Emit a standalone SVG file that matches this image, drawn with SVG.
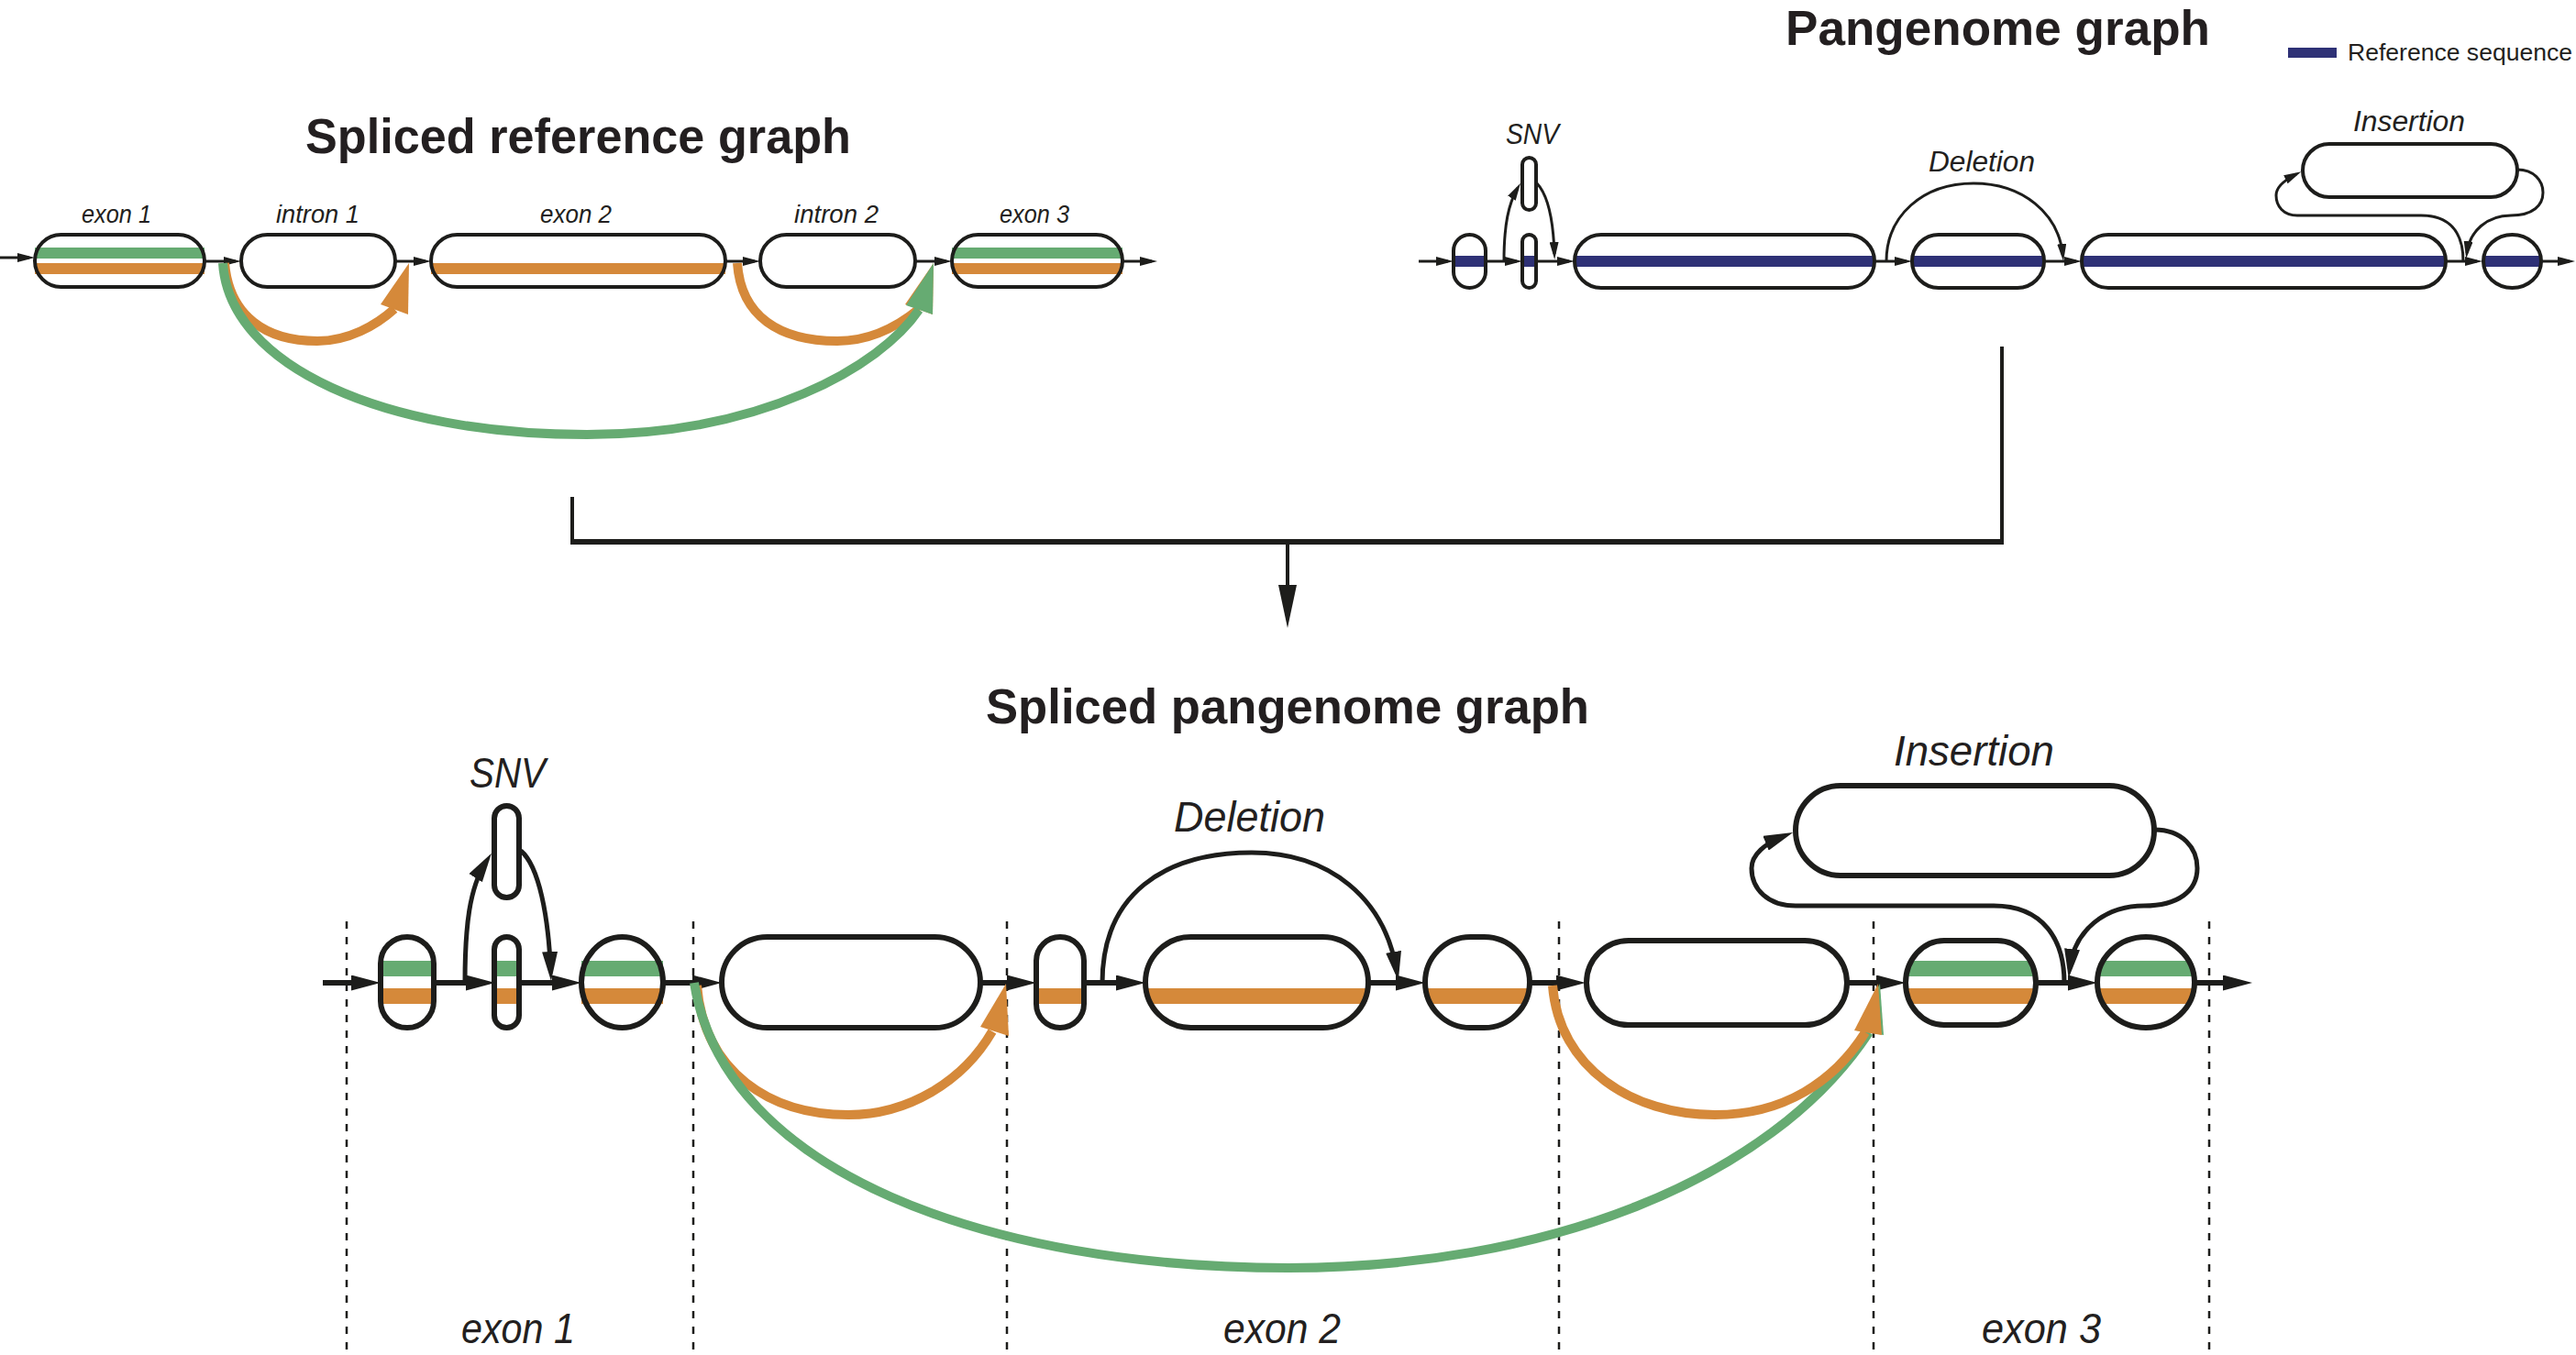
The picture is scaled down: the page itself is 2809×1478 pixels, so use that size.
<svg xmlns="http://www.w3.org/2000/svg" width="2809" height="1478" viewBox="0 0 2809 1478">
<style>
.bg{fill:#fff;stroke:none}
.ol{fill:none;stroke:#1d1d1b;stroke-width:4}
.olb{fill:none;stroke:#1d1d1b;stroke-width:6}
.g{fill:#66ab72}
.o{fill:#d5893a}
.b{fill:#2e3176}
.ln{fill:none;stroke:#1d1d1b;stroke-width:3}
.lnb{fill:none;stroke:#1d1d1b;stroke-width:6}
.lnm{fill:none;stroke:#1d1d1b;stroke-width:5}
.ga{fill:none;stroke:#66ab72;stroke-width:10}
.oa{fill:none;stroke:#d5893a;stroke-width:10}
.dash{fill:none;stroke:#1d1d1b;stroke-width:2.5;stroke-dasharray:8 9}
.title{font-family:"Liberation Sans",Arial,sans-serif;font-weight:700;font-size:54px;fill:#231f20}
.lab{font-family:"Liberation Sans",Arial,sans-serif;font-style:italic;fill:#231f20}
.s{font-size:27px}
.m{font-size:31px}
.l{font-size:46px}
</style>
<defs>
<marker id="hs" viewBox="0 0 19 10" refX="13" refY="5" markerWidth="19" markerHeight="10" orient="auto" markerUnits="userSpaceOnUse"><path d="M0,0L19,5L0,10z" fill="#1d1d1b"/></marker>
<marker id="hl" viewBox="0 0 32 17" refX="21" refY="8.5" markerWidth="32" markerHeight="17" orient="auto" markerUnits="userSpaceOnUse"><path d="M0,0L32,8.5L0,17z" fill="#1d1d1b"/></marker>
<marker id="hd" viewBox="0 0 47 20" refX="37" refY="10" markerWidth="47" markerHeight="20" orient="auto" markerUnits="userSpaceOnUse"><path d="M0,0L47,10L0,20z" fill="#1d1d1b"/></marker>
</defs>
<rect width="2809" height="1478" fill="#fff"/>

<!-- Titles -->
<text class="title" x="333" y="167" textLength="595" lengthAdjust="spacingAndGlyphs">Spliced reference graph</text>
<text class="title" x="1947" y="49" textLength="463" lengthAdjust="spacingAndGlyphs">Pangenome graph</text>
<text class="title" x="1075" y="789" textLength="658" lengthAdjust="spacingAndGlyphs">Spliced pangenome graph</text>

<!-- Legend -->
<g id="legend">
<rect class="b" x="2495" y="52" width="53" height="11"/>
<text x="2560" y="66" font-family="Liberation Sans,Arial,sans-serif" font-size="26" fill="#231f20" textLength="245" lengthAdjust="spacingAndGlyphs">Reference sequence</text>
</g>

<!-- Spliced reference graph nodes -->
<g id="ref-exon1">
<rect class="bg" x="38" y="256" width="185" height="57" rx="28.5"/>
<rect class="g" x="38" y="270" width="185" height="12"/>
<rect class="o" x="38" y="287" width="185" height="12"/>
<rect class="ol" x="38" y="256" width="185" height="57" rx="28.5"/>
<text class="lab s" x="89" y="243" textLength="76" lengthAdjust="spacingAndGlyphs">exon 1</text>
</g>
<g id="ref-intron1">
<rect class="bg" x="263" y="256" width="168" height="57" rx="28.5"/>
<rect class="ol" x="263" y="256" width="168" height="57" rx="28.5"/>
<text class="lab s" x="301" y="243" textLength="91" lengthAdjust="spacingAndGlyphs">intron 1</text>
</g>
<g id="ref-exon2">
<rect class="bg" x="470" y="256" width="321" height="57" rx="28.5"/>
<rect class="o" x="470" y="287" width="321" height="12"/>
<rect class="ol" x="470" y="256" width="321" height="57" rx="28.5"/>
<text class="lab s" x="589" y="243" textLength="78" lengthAdjust="spacingAndGlyphs">exon 2</text>
</g>
<g id="ref-intron2">
<rect class="bg" x="829" y="256" width="169" height="57" rx="28.5"/>
<rect class="ol" x="829" y="256" width="169" height="57" rx="28.5"/>
<text class="lab s" x="866" y="243" textLength="92" lengthAdjust="spacingAndGlyphs">intron 2</text>
</g>
<g id="ref-exon3">
<rect class="bg" x="1038" y="256" width="186" height="57" rx="28.5"/>
<rect class="g" x="1038" y="270" width="186" height="12"/>
<rect class="o" x="1038" y="287" width="186" height="12"/>
<rect class="ol" x="1038" y="256" width="186" height="57" rx="28.5"/>
<text class="lab s" x="1090" y="243" textLength="76" lengthAdjust="spacingAndGlyphs">exon 3</text>
</g>

<!-- Pangenome graph nodes -->
<g id="pg-a">
<rect class="bg" x="1585" y="256" width="35" height="58" rx="17.5"/>
<rect class="b" x="1586" y="279" width="33" height="12"/>
<rect class="ol" x="1585" y="256" width="35" height="58" rx="17.5"/>
</g>
<g id="pg-snv-alt">
<rect class="bg" x="1660" y="172" width="15" height="57" rx="7.5"/>
<rect class="ol" x="1660" y="172" width="15" height="57" rx="7.5"/>
<text class="lab m" x="1642" y="157" textLength="58" lengthAdjust="spacingAndGlyphs">SNV</text>
</g>
<g id="pg-snv-ref">
<rect class="bg" x="1660" y="256" width="15" height="58" rx="7.5"/>
<rect class="b" x="1660" y="279" width="15" height="12"/>
<rect class="ol" x="1660" y="256" width="15" height="58" rx="7.5"/>
</g>
<g id="pg-b">
<rect class="bg" x="1717" y="256" width="327" height="58" rx="29"/>
<rect class="b" x="1717" y="279" width="327" height="12"/>
<rect class="ol" x="1717" y="256" width="327" height="58" rx="29"/>
</g>
<g id="pg-c">
<rect class="bg" x="2085" y="256" width="144" height="58" rx="29"/>
<rect class="b" x="2085" y="279" width="144" height="12"/>
<rect class="ol" x="2085" y="256" width="144" height="58" rx="29"/>
<text class="lab m" x="2103" y="187" textLength="116" lengthAdjust="spacingAndGlyphs">Deletion</text>
</g>
<g id="pg-d">
<rect class="bg" x="2270" y="256" width="397" height="58" rx="29"/>
<rect class="b" x="2270" y="279" width="397" height="12"/>
<rect class="ol" x="2270" y="256" width="397" height="58" rx="29"/>
</g>
<g id="pg-e">
<ellipse class="bg" cx="2739.5" cy="285" rx="31.5" ry="29"/>
<rect class="b" x="2708" y="279" width="63" height="12"/>
<ellipse class="ol" cx="2739.5" cy="285" rx="31.5" ry="29"/>
</g>
<g id="pg-ins">
<rect class="bg" x="2511" y="157" width="234" height="58" rx="29"/>
<rect class="ol" x="2511" y="157" width="234" height="58" rx="29"/>
<text class="lab m" x="2566" y="143" textLength="122" lengthAdjust="spacingAndGlyphs">Insertion</text>
</g>

<!-- Spliced pangenome graph nodes -->
<g id="sp-n1">
<rect class="bg" x="415" y="1022" width="58" height="99" rx="29"/>
<rect class="g" x="418" y="1048" width="52" height="17"/>
<rect class="o" x="418" y="1078" width="52" height="17"/>
<rect class="olb" x="415" y="1022" width="58" height="99" rx="29"/>
</g>
<g id="sp-snv-alt">
<rect class="bg" x="539" y="879" width="27" height="100" rx="13.5"/>
<rect class="olb" x="539" y="879" width="27" height="100" rx="13.5"/>
<text class="lab l" x="512" y="859" textLength="83" lengthAdjust="spacingAndGlyphs">SNV</text>
</g>
<g id="sp-snv-ref">
<rect class="bg" x="539" y="1022" width="27" height="99" rx="13.5"/>
<rect class="g" x="542" y="1048" width="21" height="17"/>
<rect class="o" x="542" y="1078" width="21" height="17"/>
<rect class="olb" x="539" y="1022" width="27" height="99" rx="13.5"/>
</g>
<g id="sp-n3">
<ellipse class="bg" cx="678.5" cy="1071.5" rx="44.5" ry="49.5"/>
<rect class="g" x="634" y="1048" width="89" height="17"/>
<rect class="o" x="634" y="1078" width="89" height="17"/>
<ellipse class="olb" cx="678.5" cy="1071.5" rx="44.5" ry="49.5"/>
</g>
<g id="sp-n4">
<rect class="bg" x="787" y="1022" width="282" height="99" rx="49.5"/>
<rect class="olb" x="787" y="1022" width="282" height="99" rx="49.5"/>
</g>
<g id="sp-n5">
<rect class="bg" x="1130" y="1022" width="52" height="99" rx="26"/>
<rect class="o" x="1133" y="1078" width="46" height="17"/>
<rect class="olb" x="1130" y="1022" width="52" height="99" rx="26"/>
</g>
<g id="sp-n6">
<rect class="bg" x="1249" y="1022" width="243" height="99" rx="49.5"/>
<rect class="o" x="1252" y="1078" width="237" height="17"/>
<rect class="olb" x="1249" y="1022" width="243" height="99" rx="49.5"/>
<text class="lab l" x="1280" y="907" textLength="165" lengthAdjust="spacingAndGlyphs">Deletion</text>
</g>
<g id="sp-n7">
<rect class="bg" x="1554" y="1022" width="114" height="99" rx="49.5"/>
<rect class="o" x="1557" y="1078" width="108" height="17"/>
<rect class="olb" x="1554" y="1022" width="114" height="99" rx="49.5"/>
</g>
<g id="sp-n8">
<rect class="bg" x="1730" y="1026" width="284" height="92" rx="46"/>
<rect class="olb" x="1730" y="1026" width="284" height="92" rx="46"/>
</g>
<g id="sp-n9">
<rect class="bg" x="2078" y="1026" width="142" height="92" rx="42" ry="46"/>
<rect class="g" x="2081" y="1048" width="136" height="17"/>
<rect class="o" x="2081" y="1078" width="136" height="17"/>
<rect class="olb" x="2078" y="1026" width="142" height="92" rx="42" ry="46"/>
</g>
<g id="sp-n10">
<ellipse class="bg" cx="2340" cy="1071.5" rx="53" ry="49.5"/>
<rect class="g" x="2290" y="1048" width="100" height="17"/>
<rect class="o" x="2290" y="1078" width="100" height="17"/>
<ellipse class="olb" cx="2340" cy="1071.5" rx="53" ry="49.5"/>
</g>
<g id="sp-ins">
<rect class="bg" x="1958" y="857" width="391" height="98" rx="49"/>
<rect class="olb" x="1958" y="857" width="391" height="98" rx="49"/>
<text class="lab l" x="2065" y="835" textLength="175" lengthAdjust="spacingAndGlyphs">Insertion</text>
</g>

<!-- Exon region guides -->
<g id="exon-regions">
<path class="dash" d="M378,1005V1478M756,1005V1478M1098,1005V1478M1700,1005V1478M2043,1005V1478M2409,1005V1478"/>
<text class="lab l" x="503" y="1465" textLength="124" lengthAdjust="spacingAndGlyphs">exon 1</text>
<text class="lab l" x="1334" y="1465" textLength="128" lengthAdjust="spacingAndGlyphs">exon 2</text>
<text class="lab l" x="2161" y="1465" textLength="130" lengthAdjust="spacingAndGlyphs">exon 3</text>
</g>

<g id="connectors">
<!-- top-left reference -->
<path class="ln" marker-end="url(#hs)" d="M0,281H32"/>
<path class="ln" marker-end="url(#hs)" d="M223,285H257"/>
<path class="ln" marker-end="url(#hs)" d="M431,285H464"/>
<path class="ln" marker-end="url(#hs)" d="M791,285H823"/>
<path class="ln" marker-end="url(#hs)" d="M998,285H1032"/>
<path class="ln" marker-end="url(#hs)" d="M1224,285H1256"/>
<path class="oa" d="M245,287C250,345 290,372 346,372C380,372 410,355 430,337"/>
<polygon class="o" points="446,287 445,343 415,332"/>
<path class="oa" d="M804,287C808,345 850,372 913,372C950,372 980,355 1002,337"/>
<polygon class="o" points="1018,287 1017,343 987,332"/>
<path class="ga" d="M243,287C250,400 420,474 640,474C830,474 960,400 1002,338"/>
<polygon class="g" points="1018,287 1017,343 988,333"/>

<!-- top-right pangenome -->
<path class="ln" marker-end="url(#hs)" d="M1547,285H1579"/>
<path class="ln" marker-end="url(#hs)" d="M1620,285H1654"/>
<path class="ln" marker-end="url(#hs)" d="M1640,285C1640,245 1645,222 1655,205"/>
<path class="ln" marker-end="url(#hs)" d="M1676,200C1690,215 1694,245 1695,277"/>
<path class="ln" marker-end="url(#hs)" d="M1675,285H1711"/>
<path class="ln" marker-end="url(#hs)" d="M2044,285H2079"/>
<path class="ln" marker-end="url(#hs)" d="M2057,285C2057,235 2097,200 2152,200C2205,200 2245,232 2249.5,279"/>
<path class="ln" marker-end="url(#hs)" d="M2229,285H2264"/>
<path class="ln" marker-end="url(#hs)" d="M2667,285H2701"/>
<path class="ln" marker-end="url(#hs)" d="M2771,285H2802"/>
<path class="ln" marker-end="url(#hs)" d="M2686,285C2686,252 2670,235 2640,235L2505,235C2490,235 2482,225 2482,213C2482,203 2492,196 2504,190"/>
<path class="ln" marker-end="url(#hs)" d="M2745,185C2763,185 2773,197 2773,210C2773,224 2762,235 2738,235C2712,235 2693,252 2690,276"/>

<!-- merge connector -->
<path fill="none" stroke="#1d1d1b" stroke-width="4" d="M624,542V591"/>
<path fill="none" stroke="#1d1d1b" stroke-width="4" d="M2183,378V591"/>
<path fill="none" stroke="#1d1d1b" stroke-width="6" d="M622,591H2185"/>
<path fill="none" stroke="#1d1d1b" stroke-width="4" marker-end="url(#hd)" d="M1404,594V675"/>

<!-- bottom spliced pangenome -->
<path class="lnb" marker-end="url(#hl)" d="M352,1072H404"/>
<path class="lnb" marker-end="url(#hl)" d="M473,1072H529"/>
<path class="lnm" marker-end="url(#hl)" d="M507,1072C507,1010 512,968 530,940"/>
<path class="lnm" marker-end="url(#hl)" d="M568,928C588,945 598,1000 600.5,1059"/>
<path class="lnb" marker-end="url(#hl)" d="M566,1072H623"/>
<path class="lnb" marker-end="url(#hl)" d="M723,1072H776"/>
<path class="lnb" marker-end="url(#hl)" d="M1069,1072H1119"/>
<path class="lnm" marker-end="url(#hl)" d="M1202,1072C1202,975 1270,930 1365,930C1450,930 1510,980 1523,1059"/>
<path class="lnb" marker-end="url(#hl)" d="M1182,1072H1238"/>
<path class="lnb" marker-end="url(#hl)" d="M1492,1072H1543"/>
<path class="lnb" marker-end="url(#hl)" d="M1668,1072H1718"/>
<path class="lnb" marker-end="url(#hl)" d="M2014,1072H2067"/>
<path class="lnb" marker-end="url(#hl)" d="M2220,1072H2276"/>
<path class="lnb" marker-end="url(#hl)" d="M2393,1072H2445"/>
<path class="lnm" marker-end="url(#hl)" d="M2251,1072C2251,1025 2228,988 2174,988L1958,988C1928,988 1910,970 1910,947C1910,932 1925,920 1945,912"/>
<path class="lnm" marker-end="url(#hl)" d="M2349,905C2380,905 2396,925 2396,947C2396,972 2375,988 2338,988C2295,988 2262,1015 2257,1056"/>
<path class="oa" d="M760,1075C768,1170 840,1216 925,1216C990,1216 1050,1180 1082,1125"/>
<polygon class="o" points="1097,1073 1100,1130 1069,1120"/>
<path class="ga" stroke-width="11" d="M757,1072C790,1280 1080,1383 1405,1383C1680,1383 1930,1290 2038,1126"/>
<polygon class="g" points="2050,1073 2054,1129 2024,1124"/>
<path class="oa" d="M1693,1075C1700,1165 1780,1216 1870,1216C1945,1216 2000,1180 2034,1126"/>
<polygon class="o" points="2048,1073 2052,1129 2022,1124"/>
</g>
</svg>
